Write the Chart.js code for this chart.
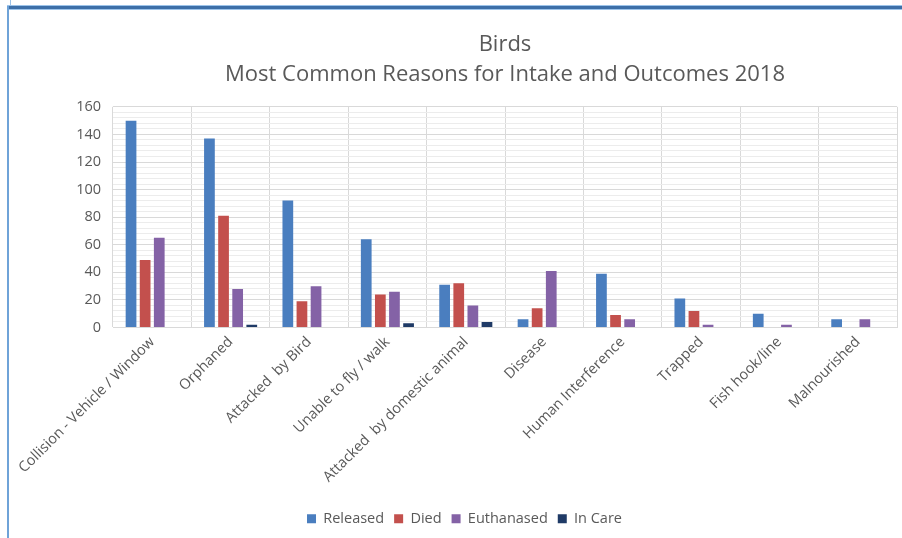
<!DOCTYPE html>
<html>
<head>
<meta charset="utf-8">
<script src="https://cdn.jsdelivr.net/npm/chart.js@4/dist/chart.umd.min.js"></script>
<style>
  html, body { margin: 0; padding: 0; background: #fff; }
  #wrap { position: relative; width: 902px; height: 538px; overflow: hidden; }
  #frameTop { position: absolute; left: 7px; top: 5px; width: 895px; height: 3px;
              background: #3d6fa8; border-top: 1px solid #9cc3ea; border-bottom: 1px solid #9cc3ea; box-sizing: content-box; }
  #frameLeft { position: absolute; left: 7px; top: 6px; width: 2px; height: 532px; background: #6fa3d8; }
  #frameStub { position: absolute; left: 10px; top: 0; width: 1px; height: 5px; background: #9cc3ea; }
  canvas { position: absolute; left: 0; top: 0; }
</style>
</head>
<body>
<div id="wrap">
  <canvas id="chart" width="902" height="538"></canvas>
  <div id="frameStub"></div>
  <div id="frameTop"></div>
  <div id="frameLeft"></div>
</div>
<script>
// Intake reasons and outcome counts for birds, 2018
const categories = [
  'Collision - Vehicle / Window', 'Orphaned', 'Attacked  by Bird', 'Unable to fly / walk',
  'Attacked  by domestic animal', 'Disease', 'Human Interference', 'Trapped',
  'Fish hook/line', 'Malnourished'
];
const released   = [150, 137, 92, 64, 31, 6, 39, 21, 10, 6];
const died       = [49, 81, 19, 24, 32, 14, 9, 12, 0, 0];
const euthanased = [65, 28, 30, 26, 16, 41, 6, 2, 2, 6];
const inCare     = [0, 2, 0, 3, 4, 0, 0, 0, 0, 0];

const seriesNames  = ['Released', 'Died', 'Euthanased', 'In Care'];
const seriesColors = ['#4a7ebf', '#c3504d', '#8462a6', '#1f3a66'];
const seriesValues = [released, died, euthanased, inCare];

const yMax = 160, yMajor = 20, yMinor = 4;
const textColor = '#595959';
const fontFamily = '"Open Sans", "Liberation Sans", sans-serif';
const labelSize = 14.5;

// Center the title over the plot area and nudge the legend slightly left
const blockPlacement = {
  id: 'blockPlacement',
  afterLayout(chart) {
    const area = chart.chartArea;
    const t = chart.titleBlock;
    if (t) { t.left = area.left; t.right = area.right; t.width = area.right - area.left; }
    const lg = chart.legend;
    if (lg) { lg.left -= 14; lg.right -= 14; }
  }
};

new Chart(document.getElementById('chart'), {
  type: 'bar',
  data: {
    labels: categories,
    datasets: seriesNames.map((name, i) => ({
      label: name,
      data: seriesValues[i],
      backgroundColor: seriesColors[i],
      borderWidth: 0,
      categoryPercentage: 0.72,
      barPercentage: 0.76
    }))
  },
  plugins: [blockPlacement],
  options: {
    responsive: false,
    animation: false,
    layout: { padding: { left: 60, right: 5, top: 30, bottom: 2 } },
    plugins: {
      title: {
        display: true,
        text: ['Birds', 'Most Common Reasons for Intake and Outcomes 2018'],
        color: textColor,
        font: { family: fontFamily, size: 22, weight: 'normal', lineHeight: 1.36 },
        padding: { top: 0, bottom: 17 }
      },
      legend: {
        position: 'bottom',
        labels: {
          color: textColor,
          font: { family: fontFamily, size: labelSize },
          boxWidth: 9,
          boxHeight: 9,
          padding: 10
        }
      },
      tooltip: { enabled: false }
    },
    scales: {
      x: {
        grid: { color: '#d9d9d9', drawTicks: false, offset: true },
        border: { color: '#d9d9d9' },
        ticks: {
          color: textColor,
          font: { family: fontFamily, size: labelSize },
          minRotation: 45,
          maxRotation: 45,
          autoSkip: false,
          padding: 6
        },
        afterFit(scale) { scale.height = 174; }
      },
      y: {
        min: 0,
        max: yMax,
        grid: {
          drawTicks: false,
          color: ctx => (ctx.tick && ctx.tick.value % yMajor === 0) ? '#d9d9d9' : '#ececec'
        },
        border: { display: false },
        ticks: {
          stepSize: yMinor,
          autoSkip: false,
          color: textColor,
          font: { family: fontFamily, size: labelSize },
          padding: 12,
          callback: v => (v % yMajor === 0 ? v : '')
        },
        afterFit(scale) { scale.width = 53; }
      }
    }
  }
});
</script>
</body>
</html>
